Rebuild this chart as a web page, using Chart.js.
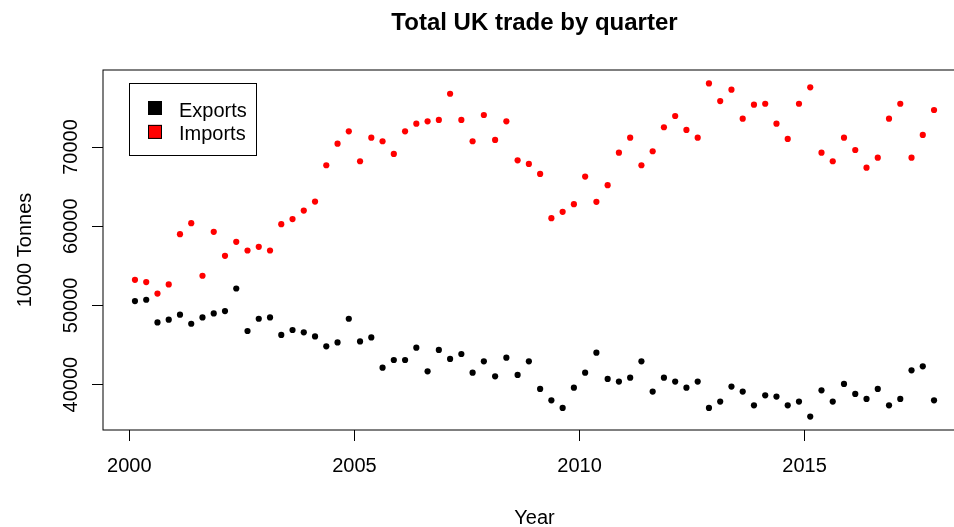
<!DOCTYPE html>
<html>
<head>
<meta charset="utf-8">
<script src="https://cdn.jsdelivr.net/npm/chart.js@4.4.1/dist/chart.umd.min.js"></script>
<style>
html,body{margin:0;padding:0;background:#fff;overflow:hidden;}
#wrap{width:954px;height:527px;overflow:hidden;position:relative;background:#fff;}
canvas{display:block;}
</style>
</head>
<body>
<div id="wrap"><canvas id="c" width="970" height="527"></canvas></div>
<script>
// ---- data ----
const titleText = 'Total UK trade by quarter';
const xTitle = 'Year';
const yTitle = '1000 Tonnes';
const seriesNames = ['Exports', 'Imports'];
const seriesColors = ['#000000', '#ff0000'];

// quarter mid-points as decimal years (2000 Q1 ... 2017 Q4)
const quarterTimes = [
  2000.125, 2000.375, 2000.625, 2000.875,
  2001.125, 2001.375, 2001.625, 2001.875,
  2002.125, 2002.375, 2002.625, 2002.875,
  2003.125, 2003.375, 2003.625, 2003.875,
  2004.125, 2004.375, 2004.625, 2004.875,
  2005.125, 2005.375, 2005.625, 2005.875,
  2006.125, 2006.375, 2006.625, 2006.875,
  2007.125, 2007.375, 2007.625, 2007.875,
  2008.125, 2008.375, 2008.625, 2008.875,
  2009.125, 2009.375, 2009.625, 2009.875,
  2010.125, 2010.375, 2010.625, 2010.875,
  2011.125, 2011.375, 2011.625, 2011.875,
  2012.125, 2012.375, 2012.625, 2012.875,
  2013.125, 2013.375, 2013.625, 2013.875,
  2014.125, 2014.375, 2014.625, 2014.875,
  2015.125, 2015.375, 2015.625, 2015.875,
  2016.125, 2016.375, 2016.625, 2016.875,
  2017.125, 2017.375, 2017.625, 2017.875
];

const exportsTonnes = [
  50550, 50720, 47860, 48200, 48830, 47690, 48490, 48990,
  49290, 52140, 46770, 48320, 48490, 46270, 46900, 46600,
  46090, 44830, 45330, 48320, 45460, 45960, 42140, 43110,
  43110, 44670, 41680, 44380, 43240, 43870, 41510, 42940,
  41050, 43400, 41220, 42940, 39460, 38020, 37060, 39620,
  41510, 44040, 40720, 40380, 40880, 42940, 39120, 40880,
  40380, 39620, 40380, 37060, 37860, 39750, 39120, 37390,
  38650, 38490, 37390, 37860, 35960, 39280, 37860, 40090,
  38830, 38200, 39460, 37390, 38200, 41800, 42310, 38020
];

const importsTonnes = [
  53240, 52950, 51500, 52650, 59000, 60390, 53750, 59290,
  56270, 58030, 56940, 57400, 56940, 60260, 60900, 61980,
  63110, 67700, 70430, 71990, 68210, 71190, 70730, 69130,
  71990, 72950, 73250, 73420, 76730, 73420, 70730, 74050,
  70900, 73250, 68330, 67870, 66610, 61020, 61820, 62790,
  66270, 63080, 65180, 69290, 71190, 67700, 69470, 72500,
  73920, 72160, 71190, 78040, 75810, 77240, 73580, 75350,
  75470, 72950, 71020, 75470, 77540, 69290, 68210, 71190,
  69630, 67400, 68660, 73580, 75470, 68660, 71530, 74680
];

const xTickValues = [2000, 2005, 2010, 2015];
const yTickValues = [40000, 50000, 60000, 70000];

// ---- chart ----
const FONT = "'Liberation Sans', Arial, Helvetica, sans-serif";

const rStyle = {
  id: 'rStyle',
  afterDraw(chart) {
    const { ctx, chartArea: a, scales } = chart;
    ctx.save();
    ctx.strokeStyle = '#000';
    ctx.lineWidth = 1;
    ctx.strokeRect(a.left, a.top, a.right - a.left, a.bottom - a.top);

    ctx.fillStyle = '#000';
    ctx.textAlign = 'center';
    ctx.textBaseline = 'alphabetic';
    const cx = (a.left + a.right) / 2;
    ctx.font = 'bold 24px ' + FONT;
    ctx.fillText(titleText, cx, 29.5);

    ctx.font = '20px ' + FONT;
    ctx.fillText(xTitle, cx, 523.5);

    // rotated y tick labels
    scales.y.ticks.forEach(t => {
      const py = scales.y.getPixelForValue(t.value);
      ctx.save();
      ctx.translate(76.5, py);
      ctx.rotate(-Math.PI / 2);
      ctx.fillText(String(t.value), 0, 0);
      ctx.restore();
    });

    // y axis title
    ctx.save();
    ctx.translate(30.5, (a.top + a.bottom) / 2);
    ctx.rotate(-Math.PI / 2);
    ctx.fillText(yTitle, 0, 0);
    ctx.restore();

    // legend
    ctx.strokeRect(129.5, 83.5, 127, 72);
    ctx.textAlign = 'left';
    chart.data.datasets.forEach((ds, k) => {
      const sy = 101 + k * 23.9;
      ctx.fillStyle = ds.backgroundColor;
      ctx.fillRect(148, sy, 14, 14);
      ctx.strokeRect(148.5, sy + 0.5, 13, 13);
      ctx.fillStyle = '#000';
      ctx.fillText(ds.label, 179, 116.6 + k * 23.2);
    });
    ctx.restore();
  }
};

function pts(values) {
  return quarterTimes.map((t, i) => ({ x: t, y: values[i] }));
}

new Chart(document.getElementById('c'), {
  type: 'scatter',
  data: {
    datasets: [
      { label: seriesNames[0], data: pts(exportsTonnes), backgroundColor: seriesColors[0], borderWidth: 0, pointRadius: 3.1 },
      { label: seriesNames[1], data: pts(importsTonnes), backgroundColor: seriesColors[1], borderWidth: 0, pointRadius: 3.1 }
    ]
  },
  options: {
    responsive: false,
    animation: false,
    events: [],
    layout: { padding: { top: 70, left: 0, right: 4, bottom: 0 } },
    plugins: { legend: { display: false }, title: { display: false }, tooltip: { enabled: false } },
    scales: {
      x: {
        type: 'linear',
        min: 1999.415,
        max: 2018.585,
        afterBuildTicks: s => { s.ticks = xTickValues.map(v => ({ value: v })); },
        afterFit: s => { s.height = 97; },
        grid: { display: true, drawOnChartArea: false, drawTicks: true, tickLength: 11, color: '#000', tickColor: '#000', lineWidth: 1 },
        border: { display: false },
        ticks: { color: '#000', font: { family: FONT, size: 20 }, padding: 13, maxRotation: 0, autoSkip: false, callback: v => String(v) }
      },
      y: {
        type: 'linear',
        min: 34270,
        max: 79730,
        afterBuildTicks: s => { s.ticks = yTickValues.map(v => ({ value: v })); },
        afterFit: s => { s.width = 103; },
        grid: { display: true, drawOnChartArea: false, drawTicks: true, tickLength: 11, color: '#000', tickColor: '#000', lineWidth: 1 },
        border: { display: false },
        ticks: { display: false }
      }
    }
  },
  plugins: [rStyle]
});
</script>
</body>
</html>
